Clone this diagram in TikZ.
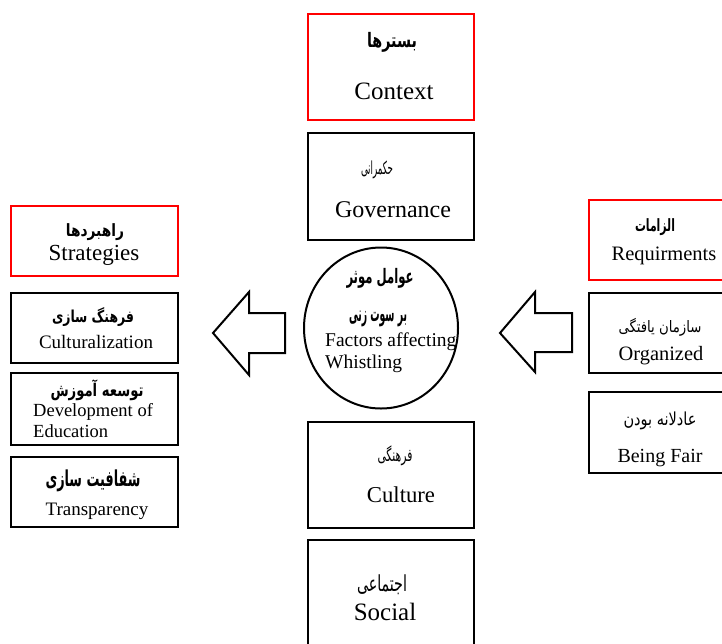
\documentclass[tikz,border=0pt]{standalone}
\usepackage{fontspec}
\setmainfont{Liberation Serif}
\newfontfamily\arabicfont[Script=Arabic]{DejaVu Sans}
\TeXXeTstate=1
\usepackage{graphicx}
\usetikzlibrary{shapes.geometric}
\newcommand{\faw}[3]{\resizebox*{#1pt}{#2pt}{\arabicfont #3}}
\newcommand{\fawb}[3]{\resizebox*{#1pt}{#2pt}{\arabicfont\bfseries #3}}
\newcommand{\fs}[1]{\fontsize{#1}{#1}\selectfont}
\begin{document}
\begin{tikzpicture}[x=1pt,y=-1pt,
  box/.style={draw=black, line width=2.2pt, rectangle, inner sep=0pt},
  redbox/.style={draw=red, line width=2pt, rectangle, inner sep=0pt},
  en/.style={inner sep=0pt, anchor=base, text=black},
  enl/.style={inner sep=0pt, anchor=base west, text=black},
  fa/.style={inner sep=0pt, text=black},
  blockarrow/.style={draw=black, line width=2pt, fill=white, line join=miter}]
\useasboundingbox (0,0) rectangle (722,643);
\clip (0,0) rectangle (722,643);
\fill[white] (0,0) rectangle (722,643);

% centre column
\node[redbox, minimum width=166pt, minimum height=106pt] (ctx) at (391,67) {};
\node[box, minimum width=166pt, minimum height=107pt] (gov) at (391,186.5) {};
\node[draw=black, line width=2pt, ellipse, minimum width=154pt, minimum height=161pt, inner sep=0pt] (fac) at (381,328) {};
\node[box, minimum width=166pt, minimum height=106pt] (cul) at (391,475) {};
\node[box, minimum width=166pt, minimum height=120pt] (soc) at (391,600) {};

% left column
\node[redbox, minimum width=167pt, minimum height=70pt] (str) at (94.5,241) {};
\node[box, minimum width=167pt, minimum height=70pt] (cz) at (94.5,328) {};
\node[box, minimum width=167pt, minimum height=72pt] (dev) at (94.5,409) {};
\node[box, minimum width=167pt, minimum height=70pt] (tr) at (94.5,492) {};

% right column
\node[redbox, minimum width=137pt, minimum height=80pt] (req) at (657.5,240) {};
\node[box, minimum width=137pt, minimum height=80pt] (org) at (657.5,333) {};
\node[box, minimum width=137pt, minimum height=81pt] (fair) at (657.5,432.5) {};

% block arrows
\draw[blockarrow] (213,333) -- (249,292) -- (249,313) -- (285,313) -- (285,353) -- (249,353) -- (249,375) -- cycle;
\draw[blockarrow] (500,333) -- (535,292) -- (535,313) -- (572,313) -- (572,352) -- (535,352) -- (535,372) -- cycle;

% texts centre
\node[fa] (ctxfa) at (392,42) {\fawb{50}{20}{\beginR بسترها\endR}};
\node[en] (ctxen) at (394,99) {\fs{25}Context};
\node[fa] (govfa) at (377,170) {\faw{32}{18}{\beginR حکمرانی\endR}};
\node[en] (goven) at (393,217) {\fs{24}Governance};
\node[fa] (facfa1) at (380,278) {\fawb{67}{20}{\beginR عوامل موثر\endR}};
\node[fa] (facfa2) at (378,319) {\fawb{58}{16}{\beginR بر سوت زنی\endR}};
\node[enl] (facen1) at (325,346) {\fs{19.5}Factors affecting};
\node[enl] (facen2) at (325,368) {\fs{19.5}Whistling};
\node[fa] (culfa) at (395,456) {\faw{35}{20}{\beginR فرهنگی\endR}};
\node[en] (culen) at (401,502) {\fs{22.7}Culture};
\node[fa] (socfa) at (382,585) {\faw{50}{20}{\beginR اجتماعی\endR}};
\node[en] (socen) at (385,620) {\fs{25}Social};

% texts left
\node[fa] (strfa) at (95,232) {\fawb{58}{17}{\beginR راهبردها\endR}};
\node[en] (stren) at (94,260) {\fs{23}Strategies};
\node[fa] (czfa) at (93,317.5) {\fawb{82}{19}{\beginR فرهنگ سازی\endR}};
\node[en] (czen) at (96,348) {\fs{19}Culturalization};
\node[fa] (devfa) at (97,390) {\fawb{93}{21}{\beginR توسعه آموزش\endR}};
\node[enl] (deven1) at (33,416) {\fs{18.5}Development of};
\node[enl] (deven2) at (33,437) {\fs{18.5}Education};
\node[fa] (trfa) at (93,480.5) {\fawb{95}{22}{\beginR شفافیت سازی\endR}};
\node[en] (tren) at (97,515) {\fs{19}Transparency};

% texts right
\node[fa] (reqfa) at (655,227) {\fawb{40}{17}{\beginR الزامات\endR}};
\node[en] (reqen) at (664,260) {\fs{20.5}Requirments};
\node[fa] (orgfa) at (660,327) {\faw{83}{18}{\beginR سازمان یافتگی\endR}};
\node[en] (orgen) at (661,360) {\fs{20.4}Organized};
\node[fa] (fairfa) at (660,421) {\faw{73}{18}{\beginR عادلانه بودن\endR}};
\node[en] (fairen) at (660,462) {\fs{20}Being Fair};
\end{tikzpicture}
\end{document}
